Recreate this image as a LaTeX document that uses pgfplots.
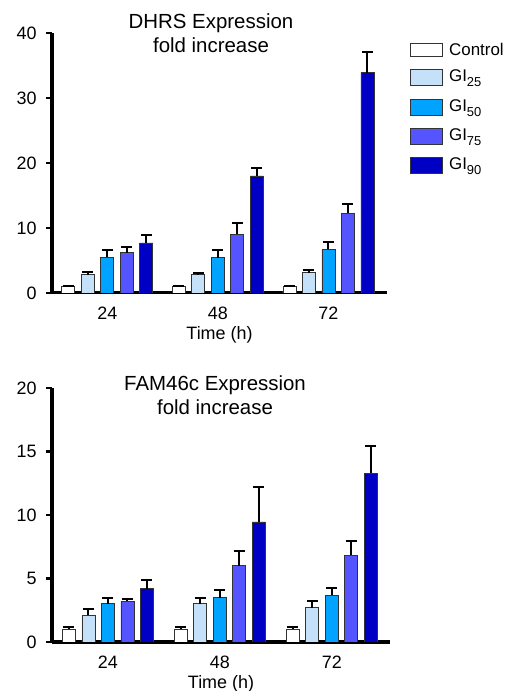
\documentclass[border=0pt]{standalone}
\usepackage{fontspec}
\setmainfont{Liberation Sans}
\usepackage{pgfplots}
\pgfplotsset{compat=1.18}

\definecolor{ctrl}{RGB}{255,255,255}
\definecolor{gia}{RGB}{197,225,250}
\definecolor{gib}{RGB}{0,163,255}
\definecolor{gic}{RGB}{85,85,255}
\definecolor{gid}{RGB}{0,0,196}

\newcommand{\sub}[1]{\raisebox{-5bp}{\fontsize{13}{15}\selectfont #1}}

\pgfplotsset{
  bars/.style={
    ybar=6.5bp, bar width=13bp, scale only axis,
    axis x line=bottom, axis y line=left,
    axis line style={-, line width=3bp, black},
    every outer x axis line/.append style={line width=3bp},
    every outer y axis line/.append style={line width=3bp},
    xmin=-0.5, xtick={0,1,2}, xticklabels={24,48,72},
    x tick style={draw=none},
    y tick style={line width=2.5bp, black}, tick align=outside, major tick length=6bp,
    ymin=0,
    tick label style={font=\fontsize{18}{22}\selectfont},
    /pgf/number format/assume math mode=true,
    xticklabel style={yshift=-4bp},
    yticklabel style={xshift=-6bp},
    xlabel={Time (h)},
    xlabel style={font=\fontsize{18}{22}\selectfont, yshift=0bp},
  },
  bb/.style={draw=black!80, line width=0.8bp, fill=#1},
  eb/.style={error bars/.cd, y dir=plus, y explicit,
    error bar style={line width=2bp, black},
    error mark options={rotate=90, mark size=5.5bp, line width=2bp, black}},
  gileg/.style={legend image code/.code={\draw[##1] (0bp,-4bp) rectangle (32bp,12bp);}},
  ctleg/.style={legend image code/.code={\draw[##1] (0bp,-1bp) rectangle (32bp,12bp);}},
}

\begin{document}
\begin{tikzpicture}
\useasboundingbox (0bp,0bp) rectangle (508bp,691bp);

% DHRS
\begin{axis}[bars, at={(52bp,398bp)}, anchor=south west,
  width=335bp, height=260bp, xmax=2.53, ymax=40, ytick={0,10,20,30,40},
  legend style={at={(1.069,0.962)}, anchor=north west, draw=none, fill=none,
    inner sep=0pt, row sep=12.5bp, font=\fontsize{17}{20}\selectfont,
    nodes={inner sep=0pt, anchor=base west},
    /tikz/every odd column/.append style={column sep=6bp}},
  legend cell align=left]
\addplot[bb=ctrl, ctleg, eb] coordinates {(0,1.0) +- (0,0.1) (1,1.0) +- (0,0.1) (2,1.0) +- (0,0.1)};
\addlegendentry{Control}
\addplot[bb=gia, gileg, eb] coordinates {(0,2.8) +- (0,0.4) (1,2.8) +- (0,0.2) (2,3.1) +- (0,0.4)};
\addlegendentry{GI\sub{25}}
\addplot[bb=gib, gileg, eb] coordinates {(0,5.5) +- (0,1.1) (1,5.4) +- (0,1.2) (2,6.7) +- (0,1.2)};
\addlegendentry{GI\sub{50}}
\addplot[bb=gic, gileg, eb] coordinates {(0,6.2) +- (0,0.9) (1,9.0) +- (0,1.7) (2,12.3) +- (0,1.4)};
\addlegendentry{GI\sub{75}}
\addplot[bb=gid, gileg, eb] coordinates {(0,7.7) +- (0,1.2) (1,18.0) +- (0,1.2) (2,33.9) +- (0,3.2)};
\addlegendentry{GI\sub{90}}
\end{axis}

% FAM46c
\begin{axis}[bars, at={(52bp,49bp)}, anchor=south west,
  width=338bp, height=254bp, xmax=2.52, ymax=20, ytick={0,5,10,15,20}]
\addplot[bb=ctrl, eb] coordinates {(0,1.0) +- (0,0.15) (1,1.0) +- (0,0.15) (2,1.0) +- (0,0.2)};
\addplot[bb=gia, eb] coordinates {(0,2.1) +- (0,0.5) (1,3.0) +- (0,0.5) (2,2.7) +- (0,0.5)};
\addplot[bb=gib, eb] coordinates {(0,3.0) +- (0,0.5) (1,3.5) +- (0,0.6) (2,3.7) +- (0,0.55)};
\addplot[bb=gic, eb] coordinates {(0,3.2) +- (0,0.2) (1,6.0) +- (0,1.2) (2,6.85) +- (0,1.1)};
\addplot[bb=gid, eb] coordinates {(0,4.2) +- (0,0.7) (1,9.45) +- (0,2.75) (2,13.3) +- (0,2.1)};
\end{axis}

\begin{scope}[every node/.style={anchor=base, inner sep=0pt, font=\fontsize{20.5}{24}\selectfont}]
\node at (211bp,662bp) {DHRS Expression};
\node at (211bp,638bp) {fold increase};
\node at (215bp,300bp) {FAM46c Expression};
\node at (215bp,276bp) {fold increase};
\end{scope}
\end{tikzpicture}
\end{document}
